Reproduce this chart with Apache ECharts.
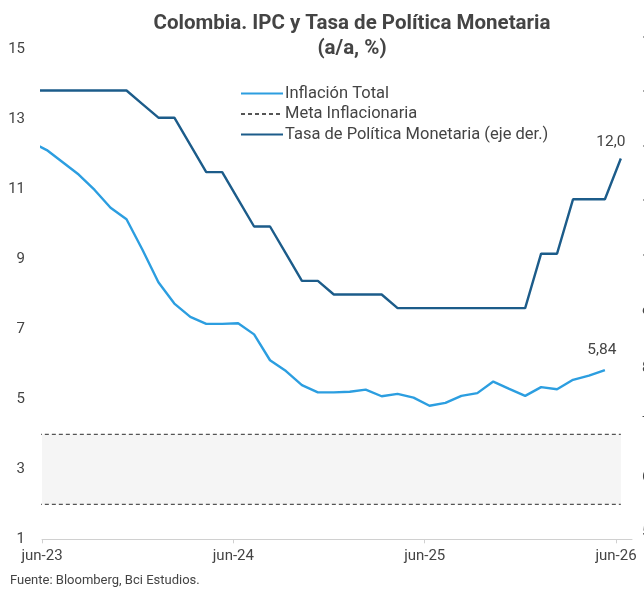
<!DOCTYPE html>
<html>
<head>
<meta charset="utf-8">
<script src="https://cdn.jsdelivr.net/npm/echarts@6/dist/echarts.min.js"></script>
<style>
html,body{margin:0;padding:0;background:#fff;}
#chart{width:644px;height:590px;}
</style>
</head>
<body>
<div id="chart"></div>
<script>
// Monthly observations, May 2023 – Jun 2026
const months = [
  '2023-05','2023-06','2023-07','2023-08','2023-09','2023-10','2023-11','2023-12',
  '2024-01','2024-02','2024-03','2024-04','2024-05','2024-06','2024-07','2024-08','2024-09','2024-10','2024-11','2024-12',
  '2025-01','2025-02','2025-03','2025-04','2025-05','2025-06','2025-07','2025-08','2025-09','2025-10','2025-11','2025-12',
  '2026-01','2026-02','2026-03','2026-04','2026-05','2026-06'
];
// Inflación Total (a/a, %), last value May 2026
const inflation = [
  12.36,12.13,11.78,11.43,10.99,10.48,10.15,9.28,
  8.35,7.74,7.36,7.16,7.16,7.18,6.86,6.12,5.81,5.41,5.20,5.20,
  5.22,5.28,5.09,5.16,5.05,4.82,4.90,5.10,5.18,5.51,5.30,5.10,
  5.35,5.29,5.56,5.68,5.84,null
];
// Tasa de Política Monetaria (%)
const policyRate = [
  13.25,13.25,13.25,13.25,13.25,13.25,13.25,13.00,
  12.75,12.75,12.25,11.75,11.75,11.25,10.75,10.75,10.25,9.75,9.75,9.50,
  9.50,9.50,9.50,9.25,9.25,9.25,9.25,9.25,9.25,9.25,9.25,9.25,
  10.25,10.25,11.25,11.25,11.25,12.00
];
// Meta inflacionaria: rango 2% – 4%
const metaLow = months.map(() => 2);
const metaHigh = months.map(() => 4);
// Tick labels
const xTickLabels = ['jun-23','jun-24','jun-25','jun-26'];
const xTickMonths = [0,12,24,36];
const titleText = 'Colombia. IPC y Tasa de Política Monetaria\n(a/a, %)';
const sourceText = 'Fuente: Bloomberg, Bci Estudios.';

// Months since June 2023 (observations dated ~10th of each month)
const OBS_OFFSET = 0.3;
function monthPos(ym){
  const [y,m] = ym.split('-').map(Number);
  return (y-2023)*12 + (m-6) + OBS_OFFSET;
}
const xs = months.map(monthPos);
const pair = arr => arr.map((v,i)=>[xs[i], v]);

const FONT = 'Roboto';
const TXT = '#444';
const cInfl = '#2c9ee0';
const cRate = '#1c5c8a';
const cMeta = '#555';

const lastIdx = (arr) => { for (let i=arr.length-1;i>=0;i--) if (arr[i]!=null) return i; return -1; };
const iInf = lastIdx(inflation), iRate = lastIdx(policyRate);

const chart = echarts.init(document.getElementById('chart'), null, {renderer:'canvas'});
chart.setOption({
  backgroundColor:'#fff',
  animation:false,
  textStyle:{fontFamily:FONT},
  title:{
    text:titleText,
    left:347, top:6, textAlign:'center',
    textStyle:{fontFamily:FONT,fontSize:20.5,fontWeight:'bold',color:TXT,lineHeight:25}
  },
  graphic:[{
    type:'text', left:10, top:574,
    style:{text:sourceText, fontFamily:FONT, fontSize:13, fill:TXT}
  }],
  legend:{
    orient:'vertical', left:235, top:80,
    itemWidth:42, itemHeight:14, itemGap:3.5,
    itemStyle:{opacity:0},
    textStyle:{fontFamily:FONT,fontSize:16.5,color:TXT,padding:[0,0,0,-3]},
    data:['Inflación Total','Meta Inflacionaria','Tasa de Política Monetaria (eje der.)']
  },
  grid:{left:42, right:12, top:49.7, bottom:50.7, outerBoundsMode:'none', containLabel:false},
  xAxis:{
    type:'value', min:0, max:37,
    axisLine:{show:true, lineStyle:{color:'#d0d0d0', width:1}},
    axisTick:{show:true, customValues:xTickMonths, length:4, lineStyle:{color:'#d0d0d0'}},
    axisLabel:{
      customValues:xTickMonths,
      formatter:(v)=>{ const k = xTickMonths.indexOf(Math.round(v)); return k>=0 ? xTickLabels[k] : ''; },
      color:TXT, fontFamily:FONT, fontSize:15, margin:9
    },
    splitLine:{show:false}
  },
  yAxis:[{
    type:'value', min:1, max:15, interval:2,
    axisLine:{show:false}, axisTick:{show:false}, splitLine:{show:false},
    axisLabel:{color:TXT, fontFamily:FONT, fontSize:15, margin:17}
  },{
    type:'value', min:5, max:14, interval:1, position:'right',
    axisLine:{show:false}, axisTick:{show:false}, splitLine:{show:false},
    axisLabel:{color:TXT, fontFamily:FONT, fontSize:15, margin:10, verticalAlign:'bottom'}
  }],
  series:[
    {
      name:'Meta Inflacionaria', type:'line', yAxisIndex:0,
      data:pair(metaLow), symbol:'none', z:2,
      lineStyle:{color:cMeta, width:1.2, type:[4,3]},
      itemStyle:{color:cMeta},
      markArea:{
        silent:true,
        itemStyle:{color:'#f5f5f5'},
        data:[[{coord:[xs[0], metaLow[0]]},{coord:[xs[xs.length-1], metaHigh[metaHigh.length-1]]}]]
      }
    },
    {
      name:'Meta sup', type:'line', yAxisIndex:0,
      data:pair(metaHigh), symbol:'none', z:2,
      lineStyle:{color:cMeta, width:1.2, type:[4,3]},
      itemStyle:{color:cMeta}
    },
    {
      name:'Inflación Total', type:'line', yAxisIndex:0,
      data:pair(inflation), symbol:'none', z:3,
      lineStyle:{color:cInfl, width:2.4}, itemStyle:{color:cInfl},
      markPoint:{
        symbol:'circle', symbolSize:0,
        data:[{coord:[xs[iInf], inflation[iInf]], value:inflation[iInf]}],
        label:{show:true, position:'top', distance:12, offset:[-3,0],
          formatter:p=>String(p.value.toFixed(2)).replace('.',','),
          color:TXT, fontFamily:FONT, fontSize:15.5}
      }
    },
    {
      name:'Tasa de Política Monetaria (eje der.)', type:'line', yAxisIndex:1,
      data:pair(policyRate), symbol:'none', z:3,
      lineStyle:{color:cRate, width:2.4}, itemStyle:{color:cRate},
      markPoint:{
        symbol:'circle', symbolSize:0,
        data:[{coord:[xs[iRate], policyRate[iRate]], value:policyRate[iRate]}],
        label:{show:true, position:'top', distance:8, offset:[-10,0],
          formatter:p=>String(p.value.toFixed(1)).replace('.',','),
          color:TXT, fontFamily:FONT, fontSize:15.5}
      }
    }
  ]
});
</script>
</body>
</html>
